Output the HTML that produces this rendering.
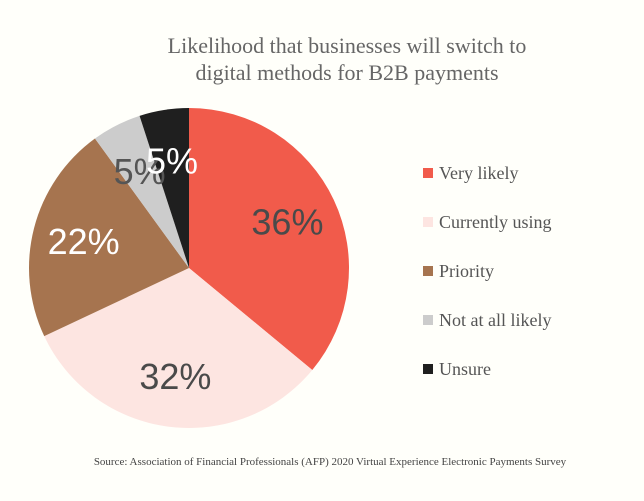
<!DOCTYPE html>
<html><head><meta charset="utf-8"><style>
body{margin:0;background:#fffffa;}
svg{display:block;}
</style></head><body>
<svg width="644" height="501" viewBox="0 0 644 501">
<rect width="644" height="501" fill="#fffffa"/>
<text x="347" y="53" text-anchor="middle" font-family="Liberation Serif, serif" font-size="22" fill="#666">Likelihood that businesses will switch to</text>
<text x="347" y="80" text-anchor="middle" font-family="Liberation Serif, serif" font-size="22" fill="#666">digital methods for B2B payments</text>
<g id="slices"></g><g id="labels"></g><g id="legend"></g>
<text x="330" y="465" text-anchor="middle" font-family="Liberation Serif, serif" font-size="11" fill="#444">Source: Association of Financial Professionals (AFP) 2020 Virtual Experience Electronic Payments Survey</text>
</svg>
<script>
const categories=["Very likely","Currently using","Priority","Not at all likely","Unsure"];
const values=[36,32,22,5,5];
const colors=["#f15b4b","#fde5e1","#a6744f","#cccccc","#1f1f1f"];
const labelColors=["#4a4a4a","#4a4a4a","#ffffff","#555555","#ffffff"];
const NS="http://www.w3.org/2000/svg";
const cx=189,cy=268,r=160;
const total=values.reduce((a,b)=>a+b,0);
const sl=document.getElementById('slices'),lb=document.getElementById('labels'),lg=document.getElementById('legend');
function pt(a,rr){return [cx+rr*Math.sin(a),cy-rr*Math.cos(a)];}
let acc=0;
values.forEach((v,i)=>{
  const a0=acc/total*2*Math.PI;acc+=v;const a1=acc/total*2*Math.PI;
  const p0=pt(a0,r),p1=pt(a1,r);
  const p=document.createElementNS(NS,'path');
  p.setAttribute('d',`M${cx},${cy}L${p0[0]},${p0[1]}A${r},${r} 0 ${a1-a0>Math.PI?1:0} 1 ${p1[0]},${p1[1]}Z`);
  p.setAttribute('fill',colors[i]);
  
  
  sl.appendChild(p);
  const am=(a0+a1)/2;const lp=pt(am,r*0.68);
  const t=document.createElementNS(NS,'text');
  t.setAttribute('x',lp[0]);t.setAttribute('y',lp[1]+13);
  t.setAttribute('text-anchor','middle');t.setAttribute('font-family','Liberation Sans, sans-serif');
  t.setAttribute('font-size','36');t.setAttribute('fill',labelColors[i]);
  t.textContent=v+'%';
  
  
  lb.appendChild(t);
  const y=173+i*49;
  const s=document.createElementNS(NS,'rect');
  s.setAttribute('x',423);s.setAttribute('y',y-5);s.setAttribute('width',10);s.setAttribute('height',10);s.setAttribute('fill',colors[i]);
  
  
  lg.appendChild(s);
  const lt=document.createElementNS(NS,'text');
  lt.setAttribute('x',439);lt.setAttribute('y',y+6);lt.setAttribute('font-family','Liberation Serif, serif');
  lt.setAttribute('font-size','18');lt.setAttribute('fill','#555');lt.textContent=categories[i];
  
  
  lg.appendChild(lt);
});
</script>
</body></html>
